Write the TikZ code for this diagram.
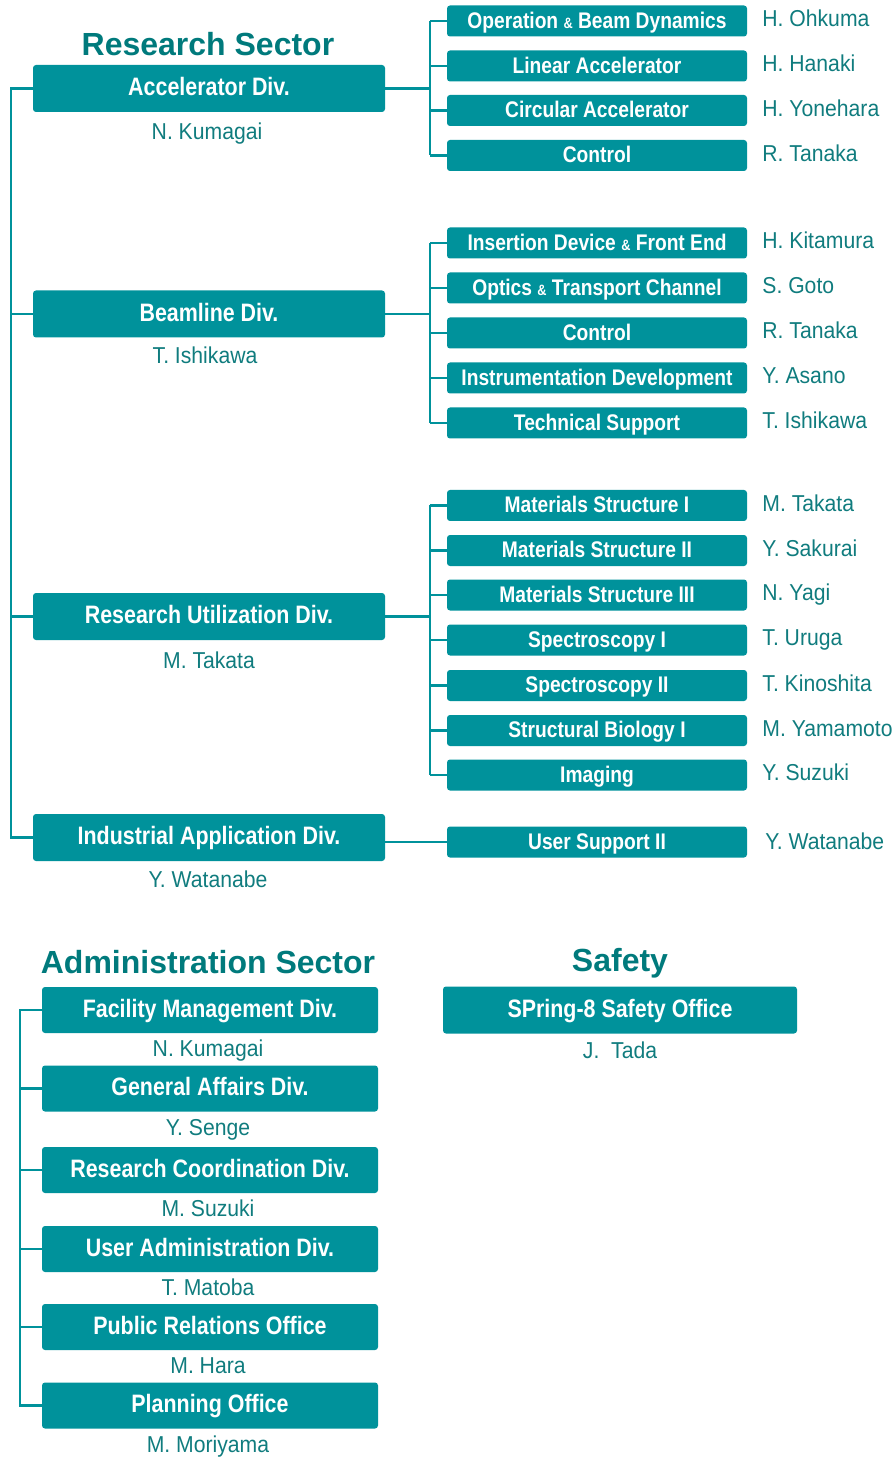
\documentclass[tikz,border=0pt]{standalone}
\usepackage{fontspec}
\usepackage{tikz}
\setmainfont{Liberation Sans}
\newfontfamily\narrowfont[FakeStretch=0.85]{Liberation Sans}
\newfontfamily\namefont[FakeStretch=0.92]{Liberation Sans}
\usetikzlibrary{positioning,calc}
\definecolor{boxteal}{HTML}{00929B}
\definecolor{headteal}{HTML}{007A7C}
\definecolor{nameteal}{HTML}{107C7E}
\newcommand{\amp}{{\fontsize{7.5}{8}\selectfont\&}}

\begin{document}
\begin{tikzpicture}[x=0.5pt, y=-0.5pt,
    link/.style={draw=boxteal, line width=1.25pt},
    divbox/.style={fill=boxteal, rounded corners=1.5pt, text=white, inner sep=0pt,
        minimum width=176pt, minimum height=23.5pt, text height=0.72em, text depth=0pt,
        font=\narrowfont\bfseries\fontsize{12.6}{14}\selectfont},
    admbox/.style={divbox, minimum width=168pt, minimum height=23pt},
    grpbox/.style={divbox, minimum width=150pt, minimum height=15.5pt,
        font=\narrowfont\bfseries\fontsize{11.3}{13}\selectfont},
    sector/.style={text=headteal, font=\bfseries\fontsize{16}{18}\selectfont},
    person/.style={text=nameteal, inner sep=0pt, text height=0.72em, text depth=0pt,
        font=\namefont\fontsize{11.5}{13}\selectfont}]
    \useasboundingbox (0,0) rectangle (892,1459);

    % research sector
    \node[sector] (rs) at (208,44) {Research Sector};
    \node[divbox] (acc) at (209,88.5) {Accelerator Div.};
    \node[divbox] (bl) at (209,314) {Beamline Div.};
    \node[divbox] (ru) at (209,616.5) {Research Utilization Div.};
    \node[divbox] (ind) at (209,837.5) {Industrial Application Div.};
    \node[person] (acc-n) at (207,132.5) {N. Kumagai};
    \node[person] (bl-n) at (205,356) {T. Ishikawa};
    \node[person] (ru-n) at (209,661) {M. Takata};
    \node[person] (ind-n) at (208,880) {Y. Watanabe};

    \coordinate (rtrunk) at (11,0);
    \coordinate (brx) at (430,0);
    \draw[link] (acc.west) -- (acc.west -| rtrunk) -- (ind.west -| rtrunk) -- (ind.west);
    \draw[link] (bl.west) -- (bl.west -| rtrunk);
    \draw[link] (ru.west) -- (ru.west -| rtrunk);

    % groups
    \foreach \g/\y/\t/\p in {
        ac1/21/{Operation \amp{} Beam Dynamics}/H. Ohkuma,
        ac2/66/Linear Accelerator/H. Hanaki,
        ac3/110.5/Circular Accelerator/H. Yonehara,
        ac4/155.5/Control/R. Tanaka,
        bl1/243/{Insertion Device \amp{} Front End}/H. Kitamura,
        bl2/288/{Optics \amp{} Transport Channel}/S. Goto,
        bl3/333/Control/R. Tanaka,
        bl4/378/Instrumentation Development/Y. Asano,
        bl5/423/Technical Support/T. Ishikawa,
        ru1/505.5/Materials Structure I/M. Takata,
        ru2/550.5/Materials Structure II/Y. Sakurai,
        ru3/595/Materials Structure III/N. Yagi,
        ru4/640/Spectroscopy I/T. Uruga,
        ru5/685.5/Spectroscopy II/T. Kinoshita,
        ru6/730.5/Structural Biology I/M. Yamamoto,
        ru7/775/Imaging/Y. Suzuki} {
        \node[grpbox] (\g) at (597,\y) {\t};
        \node[person, anchor=west] (\g-n) at (762,\y-1.5) {\p};
        \draw[link] (\g.west) -- (\g.west -| brx);
    }
    \draw[link] (acc.east) -- (acc.east -| brx);
    \draw[link] (ac1.west -| brx) -- (ac4.west -| brx);
    \draw[link] (bl.east) -- (bl.east -| brx);
    \draw[link] (bl1.west -| brx) -- (bl5.west -| brx);
    \draw[link] (ru.east) -- (ru.east -| brx);
    \draw[link] (ru1.west -| brx) -- (ru7.west -| brx);

    \node[grpbox] (us) at (597,842) {User Support II};
    \node[person, anchor=west] (us-n) at (765,842) {Y. Watanabe};
    \draw[link] (us.west) -- (us.west -| ind.east);

    % administration sector
    \node[sector] (as) at (208,962) {Administration Sector};
    \foreach \a/\y/\t/\p in {
        ad1/1010/Facility Management Div./N. Kumagai,
        ad2/1088.5/General Affairs Div./Y. Senge,
        ad3/1170/Research Coordination Div./M. Suzuki,
        ad4/1249/User Administration Div./T. Matoba,
        ad5/1327/Public Relations Office/M. Hara,
        ad6/1405.5/Planning Office/M. Moriyama} {
        \node[admbox] (\a) at (210,\y) {\t};
        \node[person] (\a-n) at (208,\y+39.5) {\p};
    }
    \coordinate (atrunk) at (20,0);
    \draw[link] (ad1.west) -- (ad1.west -| atrunk) -- (ad6.west -| atrunk) -- (ad6.west);
    \foreach \a in {ad2,ad3,ad4,ad5}
        \draw[link] (\a.west) -- (\a.west -| atrunk);

    % safety
    \node[sector] (sf) at (620,963) {Safety};
    \node[divbox, minimum width=177pt] (so) at (620,1010) {SPring-8 Safety Office};
    \node[person] (so-n) at (620,1051) {J.\ \ Tada};
\end{tikzpicture}
\end{document}
